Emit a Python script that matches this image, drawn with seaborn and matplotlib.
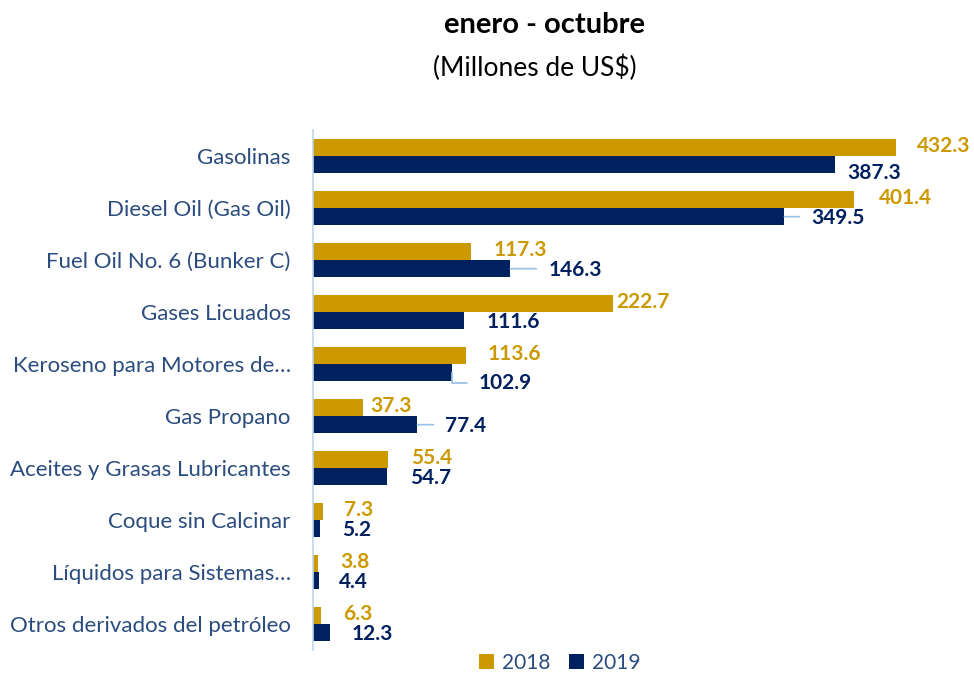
import matplotlib
matplotlib.use("Agg")
import matplotlib.pyplot as plt
import seaborn as sns
import pandas as pd
from matplotlib.patches import Patch

categories = ["Gasolinas", "Diesel Oil (Gas Oil)", "Fuel Oil No. 6 (Bunker C)",
              "Gases Licuados", "Keroseno para Motores de…", "Gas Propano",
              "Aceites y Grasas Lubricantes", "Coque sin Calcinar",
              "Líquidos para Sistemas…", "Otros derivados del petróleo"]
values_2018 = [432.3, 401.4, 117.3, 222.7, 113.6, 37.3, 55.4, 7.3, 3.8, 6.3]
values_2019 = [387.3, 349.5, 146.3, 111.6, 102.9, 77.4, 54.7, 5.2, 4.4, 12.3]
series = ["2018", "2019"]

# label styling (pixel offsets from bar end), leader-line flags
dx_2018 = [21, 24, 22, 3, 21, 7, 23, 21, 22, 22]
dx_2019 = [12, 27, 38, 23, 27, 28, 23, 22, 20, 22]
dy_2018 = [1, 1, 1, 1, 1, 1, 1, 1, 1, 1]
dy_2019 = [-8, -1, -1, -1, -10, -1, -1, -1, -1, -1]
leader_2019 = [False, True, True, False, True, True, False, False, False, False]

GOLD = "#CC9900"
NAVY = "#002060"
TICK = "#2B4C7E"
LEADER = "#9DC3E6"

df = pd.DataFrame({
    "cat": categories * 2,
    "val": values_2018 + values_2019,
    "year": [series[0]] * len(categories) + [series[1]] * len(categories),
})

sns.set_theme(style="white")
plt.rcParams["font.family"] = ["Lato", "DejaVu Sans"]

fig = plt.figure(figsize=(9.74, 6.74), dpi=100)
ax = fig.add_axes([313 / 974, 1 - 650 / 674, 1 - 313 / 974, 520 / 674])

sns.barplot(data=df, y="cat", x="val", hue="year", orient="h",
            palette=[GOLD, NAVY], width=0.67, ax=ax, legend=False,
            saturation=1, edgecolor="none")

ax.set_xlim(0, 490)
ax.set_ylim(len(categories) - 0.5, -0.5)
ax.set_xlabel("")
ax.set_ylabel("")
ax.set_xticks([])
ax.tick_params(axis="y", length=0, pad=16, labelsize=16, labelcolor=TICK)
for s in ["top", "right", "bottom"]:
    ax.spines[s].set_visible(False)
ax.spines["left"].set_color("#BDD7EE")
ax.spines["left"].set_linewidth(1.2)

for ci, (cont, col) in enumerate(zip(ax.containers, [GOLD, NAVY])):
    for i, bar in enumerate(cont):
        w = bar.get_width()
        yc = bar.get_y() + bar.get_height() / 2
        if ci == 0:
            dx, dy, lead = dx_2018[i], dy_2018[i], False
        else:
            dx, dy, lead = dx_2019[i], dy_2019[i], leader_2019[i]
        ax.annotate(f"{w:.1f}", xy=(w, yc), xytext=(dx, dy), textcoords="offset pixels",
                    ha="left", va="center", fontsize=15, fontweight="bold",
                    color=col, annotation_clip=False)
        if lead:
            elbow = abs(dy) > 2
            ax.annotate("", xy=(w, yc), xytext=(dx - 12, dy if elbow else 0),
                        textcoords="offset pixels",
                        arrowprops=dict(arrowstyle="-", color=LEADER, lw=1.3,
                                        shrinkA=0, shrinkB=0,
                                        connectionstyle="angle,angleA=0,angleB=90,rad=0" if elbow else "arc3"),
                        annotation_clip=False)

fig.text(545 / 974, 1 - 25 / 674, "enero - octubre",
         ha="center", va="center", fontsize=21, fontweight="bold", color="black")
fig.text(535 / 974, 1 - 68 / 674, "(Millones de US$)", ha="center", va="center",
         fontsize=19, color="black")

handles = [Patch(facecolor=GOLD, edgecolor="none"), Patch(facecolor=NAVY, edgecolor="none")]
fig.legend(handles, series, loc="center", bbox_to_anchor=(560 / 974, 1 - 663 / 674),
           ncol=2, frameon=False, fontsize=15, handlelength=0.7, handleheight=0.7,
           handletextpad=0.4, columnspacing=0.9, labelcolor=TICK)

fig.savefig("out.png", dpi=100)
